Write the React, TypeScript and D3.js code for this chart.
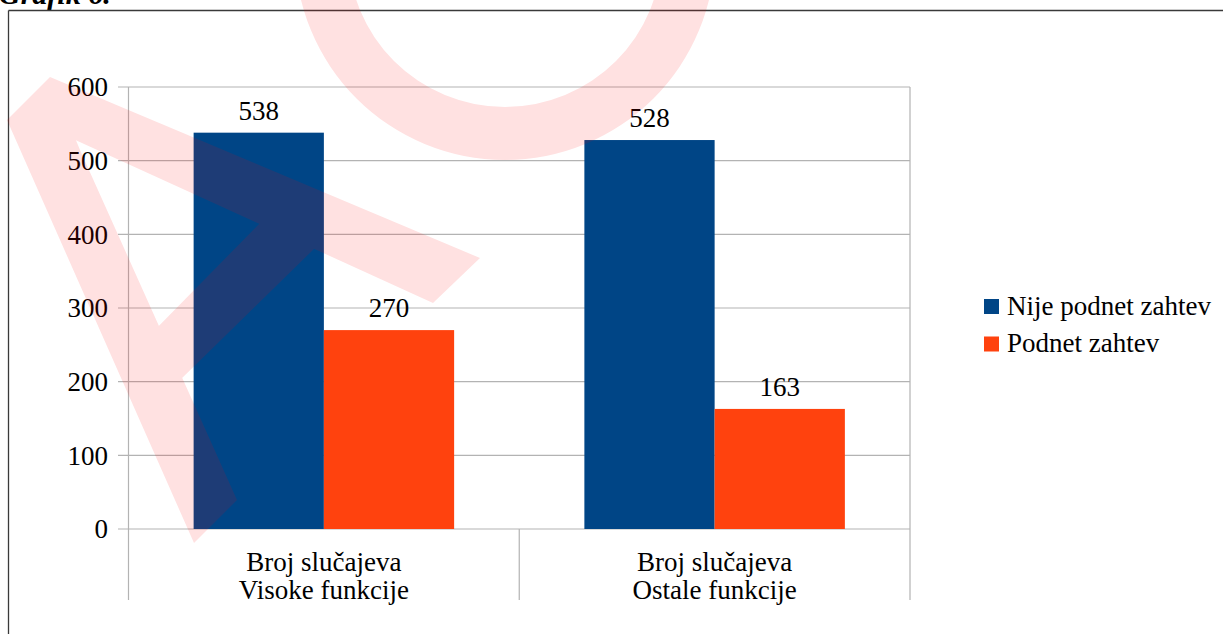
import React from 'react';
import * as d3 from 'd3';

// chart values
const categories = ['Broj slučajeva\nVisoke funkcije', 'Broj slučajeva\nOstale funkcije'];
const seriesNames = ['Nije podnet zahtev', 'Podnet zahtev'];
const seriesColors = ['#004586', '#ff420e'];
const nijePodnet = [538, 528];
const podnet = [270, 163];
const yTicks = [0, 100, 200, 300, 400, 500, 600];

const W = 1223;
const H = 634;
const FONT = 'Liberation Serif, DejaVu Serif, serif';

// decorative watermark seen over the picture (not data)
const watermarkA = [
  'M50,77 L7,120 L194,543 L237,500 L80,150 Z',
  'M50,77 L480,258 L433,303 L60,133 Z',
  'M145,340 L265,218 L318,245 L178,382 Z',
];

const App = () => {
  const plot = { left: 128.5, right: 910, top: 87, bottom: 529 };

  const x0 = d3.scaleBand<string>()
    .domain(categories)
    .range([plot.left, plot.right])
    .padding(0);

  const x1 = d3.scaleBand<string>()
    .domain(seriesNames)
    .range([0, x0.bandwidth()])
    .paddingInner(0)
    .paddingOuter(0.5);

  const y = d3.scaleLinear()
    .domain([0, 600])
    .range([plot.bottom, plot.top]);

  const values = [nijePodnet, podnet];

  const bars = categories.flatMap((cat, ci) =>
    seriesNames.map((s, si) => ({ cat, s, v: values[si][ci], color: seriesColors[si] }))
  );

  // watermark ring
  const ring = d3.arc()({
    innerRadius: 157,
    outerRadius: 210,
    startAngle: 0,
    endAngle: Math.PI * 2,
  }) as string;

  const grid = '#b3b3b3';
  const sepBottom = 600;
  const txt = { fontFamily: FONT, fontSize: 27 };

  return (
    <div style={{ position: 'absolute', left: 0, top: 0 }}>
      <svg width={W} height={H} style={{ display: 'block', background: '#fff' }}>
        {/* heading, clipped at the top of the page */}
        <text x={-1} y={4} style={{ fontFamily: FONT, fontSize: 30, fontWeight: 'bold', fontStyle: 'italic' }} fill="#000">
          Grafik 6.
        </text>

        {/* outer frame */}
        <line x1={8.5} x2={W} y1={10.5} y2={10.5} stroke="#3a3a3a" strokeWidth={1.3} />
        <line x1={8.5} x2={8.5} y1={10.5} y2={H} stroke="#3a3a3a" strokeWidth={1.3} />

        {/* gridlines and y ticks */}
        {yTicks.map(t => (
          <g key={t}>
            <line x1={118} x2={plot.right} y1={y(t)} y2={y(t)} stroke={grid} strokeWidth={1.2} />
            <text x={108} y={y(t)} dy="0.35em" textAnchor="end" style={txt} fill="#000">
              {t}
            </text>
          </g>
        ))}

        {/* plot verticals and category separators */}
        <line x1={plot.left} x2={plot.left} y1={plot.top} y2={sepBottom} stroke={grid} strokeWidth={1.2} />
        <line x1={plot.right} x2={plot.right} y1={plot.top} y2={sepBottom} stroke={grid} strokeWidth={1.2} />
        {categories.slice(1).map(c => (
          <line key={c} x1={x0(c)} x2={x0(c)} y1={plot.bottom} y2={sepBottom} stroke={grid} strokeWidth={1.2} />
        ))}

        {/* bars */}
        {bars.map(b => (
          <rect
            key={b.cat + b.s}
            x={(x0(b.cat) as number) + (x1(b.s) as number)}
            y={y(b.v)}
            width={x1.bandwidth()}
            height={y(0) - y(b.v)}
            fill={b.color}
          />
        ))}

        {/* value labels */}
        {bars.map(b => (
          <text
            key={'l' + b.cat + b.s}
            x={(x0(b.cat) as number) + (x1(b.s) as number) + x1.bandwidth() / 2}
            y={y(b.v) - 13}
            textAnchor="middle"
            style={txt}
            fill="#000"
          >
            {b.v}
          </text>
        ))}

        {/* category labels */}
        {categories.map(c => (
          <text
            key={'c' + c}
            x={(x0(c) as number) + x0.bandwidth() / 2}
            y={571}
            textAnchor="middle"
            style={txt}
            fill="#000"
          >
            {c.split('\n').map((line, i) => (
              <tspan key={i} x={(x0(c) as number) + x0.bandwidth() / 2} dy={i === 0 ? 0 : 28}>
                {line}
              </tspan>
            ))}
          </text>
        ))}

        {/* legend */}
        {seriesNames.map((s, i) => (
          <g key={'lg' + s} transform={`translate(984, ${299 + i * 37.5})`}>
            <rect x={0} y={0} width={15} height={15} fill={seriesColors[i]} />
            <text x={23} y={15.5} style={txt} fill="#000">
              {s}
            </text>
          </g>
        ))}

        {/* watermark, separate paths so overlaps stay filled */}
        <g opacity={0.118} fill="#ff0000">
          {watermarkA.map((d, i) => <path key={i} d={d} />)}
          <path d={ring} transform="translate(505,-50)" />
        </g>
      </svg>
    </div>
  );
};

export default App;
